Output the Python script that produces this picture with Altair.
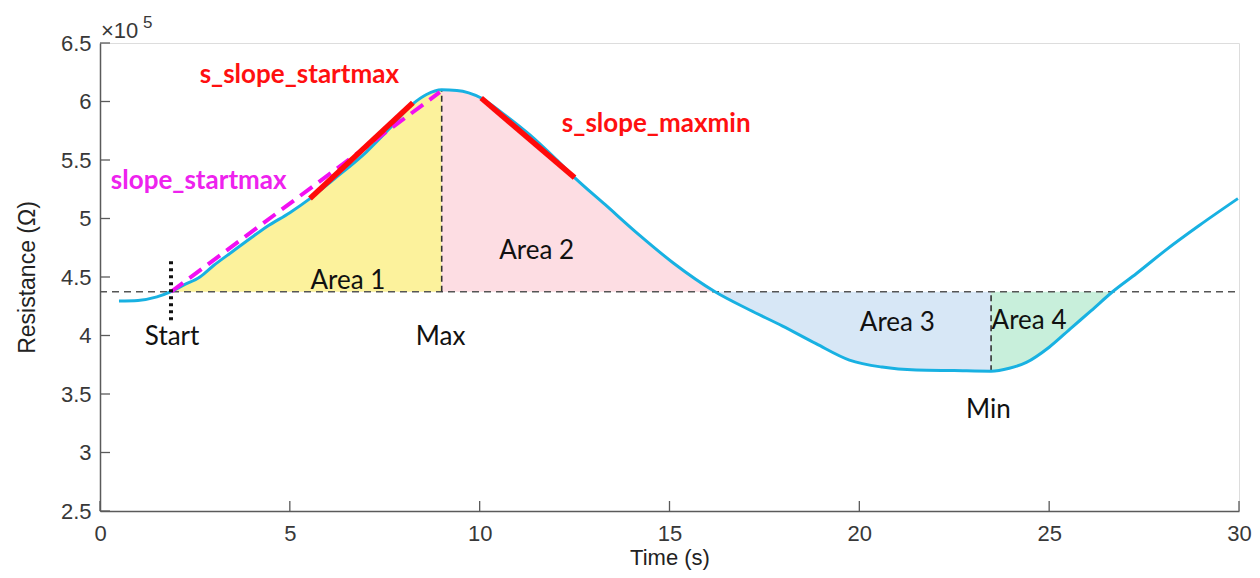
import altair as alt
import pandas as pd

# ---- data ----
time_s = [0.5, 1.0, 1.5, 1.87, 2.2, 2.63, 3.0, 3.5, 4.0, 4.39, 5.0, 5.53, 6.14, 7.02, 7.6,
          8.24, 8.6, 9.0, 9.4, 10.04, 10.6, 11.3, 12.0, 12.5, 13.3, 14.2, 15.1, 16.2, 17.1,
          17.98, 18.86, 19.74, 20.6, 21.5, 22.5, 23.47, 23.95, 24.4, 25.0, 25.6, 26.1, 26.67,
          27.3, 28.07, 28.95, 29.97]
resistance = [4.295, 4.30, 4.33, 4.374, 4.43, 4.50, 4.60, 4.72, 4.84, 4.93, 5.05, 5.17, 5.33,
              5.57, 5.76, 5.98, 6.06, 6.10, 6.095, 6.03, 5.90, 5.72, 5.51, 5.35, 5.12, 4.86,
              4.62, 4.374, 4.22, 4.08, 3.93, 3.79, 3.73, 3.705, 3.70, 3.695, 3.72, 3.77, 3.90,
              4.07, 4.21, 4.374, 4.53, 4.73, 4.94, 5.17]

baseline = 4.374
t_start, t_max, t_cross, t_min, t_end = 1.87, 9.0, 16.2, 23.47, 26.67
r_max, r_min = 6.10, 3.695

area_names = ["Area 1", "Area 2", "Area 3", "Area 4"]
area_bounds = [(t_start, t_max), (t_max, t_cross), (t_cross, t_min), (t_min, t_end)]
area_colors = ["#fcf29c", "#fddde3", "#d7e7f6", "#c8efdb"]

# slope lines (time, value)
slope_startmax = [(1.87, 4.374), (8.95, 6.08)]
s_slope_startmax = [(5.53, 5.17), (8.24, 5.99)]
s_slope_maxmin = [(10.04, 6.03), (12.5, 5.35)]
start_marker = [(1.87, 4.13), (1.87, 4.645)]

x_ticks = [0, 5, 10, 15, 20, 25, 30]
y_ticks = [2.5, 3, 3.5, 4, 4.5, 5, 5.5, 6, 6.5]

# annotation labels
area_label_x = [6.53, 11.5, 21.0, 24.47]
area_label_y = [4.47, 4.72, 4.11, 4.12]
point_labels = ["Start", "Max", "Min"]
point_label_x = [1.9, 8.97, 23.4]
point_label_y = [3.99, 3.99, 3.36]

W, H = 1139, 468
FONT_AX = "Liberation Sans"
FONT_AN = "Lato"

curve = pd.DataFrame({"t": time_s, "r": resistance})

rows = []
for name, (lo, hi) in zip(area_names, area_bounds):
    for t, r in zip(time_s, resistance):
        if lo - 1e-9 <= t <= hi + 1e-9:
            rows.append({"t": t, "r": r, "b": baseline, "area": name})
areas_df = pd.DataFrame(rows)

xs = alt.Scale(domain=[0, 30], nice=False, zero=False)
ys = alt.Scale(domain=[2.5, 6.5], nice=False, zero=False)

X = alt.X("t:Q", scale=xs,
          axis=alt.Axis(values=x_ticks, ticks=False, grid=False, title="Time (s)",
                        labelFont=FONT_AX, labelFontSize=22, labelColor="#383838",
                        labelPadding=12, titleFont=FONT_AX, titleFontSize=22,
                        titleFontWeight="normal", titleColor="#222222", titlePadding=3,
                        domainColor="#5a5a5a", domainWidth=1.5, labelFlush=False))
Y = alt.Y("r:Q", scale=ys,
          axis=alt.Axis(values=y_ticks, ticks=False, grid=False, title="Resistance (Ω)",
                        format="~g", labelFont=FONT_AX, labelFontSize=22,
                        labelColor="#383838", labelPadding=9, titleFont=FONT_AX,
                        titleFontSize=23, titleFontWeight="normal", titleColor="#222222",
                        titlePadding=21, domainColor="#5a5a5a", domainWidth=1.5,
                        labelFlush=False))

areas = alt.Chart(areas_df).mark_area(opacity=1, interpolate="monotone").encode(
    x=X, y=Y, y2="b:Q",
    color=alt.Color("area:N", scale=alt.Scale(domain=area_names, range=area_colors), legend=None),
)

base_df = pd.DataFrame({"t": [0], "t2": [30], "r": [baseline]})
base_line = alt.Chart(base_df).mark_rule(color="#555555", strokeWidth=1.4, strokeDash=[7, 5]).encode(
    x=alt.X("t:Q", scale=xs), x2="t2:Q", y=alt.Y("r:Q", scale=ys))

vert_df = pd.DataFrame({"t": [t_max, t_min], "r": [baseline, r_min], "r2": [r_max, baseline]})
vert_lines = alt.Chart(vert_df).mark_rule(color="#333333", strokeWidth=1.6, strokeDash=[6, 4]).encode(
    x=alt.X("t:Q", scale=xs), y=alt.Y("r:Q", scale=ys), y2="r2:Q")

start_df = pd.DataFrame({"t": [start_marker[0][0]], "r": [start_marker[0][1]], "r2": [start_marker[1][1]]})
start_line = alt.Chart(start_df).mark_rule(color="#111111", strokeWidth=4, strokeDash=[3, 4]).encode(
    x=alt.X("t:Q", scale=xs), y=alt.Y("r:Q", scale=ys), y2="r2:Q")

curve_line = alt.Chart(curve).mark_line(color="#18b1e2", strokeWidth=3, interpolate="monotone").encode(
    x=alt.X("t:Q", scale=xs), y=alt.Y("r:Q", scale=ys))

def seg(points, color, width, dash=None):
    df = pd.DataFrame({"t": [points[0][0]], "r": [points[0][1]],
                       "t2": [points[1][0]], "r2": [points[1][1]]})
    kw = dict(color=color, strokeWidth=width, strokeCap="butt")
    if dash:
        kw["strokeDash"] = dash
    return alt.Chart(df).mark_rule(**kw).encode(
        x=alt.X("t:Q", scale=xs), y=alt.Y("r:Q", scale=ys), x2="t2:Q", y2="r2:Q")

mag = seg(slope_startmax, "#f20ff2", 4, [15, 8])
red1 = seg(s_slope_startmax, "#ff0a0a", 5.5)
red2 = seg(s_slope_maxmin, "#ff0a0a", 5.5)

area_txt_df = pd.DataFrame({"t": area_label_x, "r": area_label_y, "s": area_names})
area_txt = alt.Chart(area_txt_df).mark_text(font=FONT_AN, fontSize=26, color="#111111").encode(
    x=alt.X("t:Q", scale=xs), y=alt.Y("r:Q", scale=ys), text="s:N")

pt_txt_df = pd.DataFrame({"t": point_label_x, "r": point_label_y, "s": point_labels})
pt_txt = alt.Chart(pt_txt_df).mark_text(font=FONT_AN, fontSize=26, color="#111111").encode(
    x=alt.X("t:Q", scale=xs), y=alt.Y("r:Q", scale=ys), text="s:N")

red_txt_df = pd.DataFrame({"t": [5.25, 14.65], "r": [6.23, 5.81],
                           "s": ["s_slope_startmax", "s_slope_maxmin"]})
red_txt = alt.Chart(red_txt_df).mark_text(font=FONT_AN, fontSize=26, fontWeight="bold",
                                          color="#ff1010").encode(
    x=alt.X("t:Q", scale=xs), y=alt.Y("r:Q", scale=ys), text="s:N")

mag_txt_df = pd.DataFrame({"t": [2.6], "r": [5.32], "s": ["slope_startmax"]})
mag_txt = alt.Chart(mag_txt_df).mark_text(font=FONT_AN, fontSize=26, fontWeight="bold",
                                          color="#ee22ee").encode(
    x=alt.X("t:Q", scale=xs), y=alt.Y("r:Q", scale=ys), text="s:N")

# inward ticks (MATLAB style)
xt = alt.Chart(pd.DataFrame({"t": x_ticks})).mark_rule(color="#5a5a5a", strokeWidth=1.3).encode(
    x=alt.X("t:Q", scale=xs), y=alt.value(H), y2=alt.value(H - 10))
yt = alt.Chart(pd.DataFrame({"r": y_ticks})).mark_rule(color="#5a5a5a", strokeWidth=1.3).encode(
    y=alt.Y("r:Q", scale=ys), x=alt.value(0), x2=alt.value(10))

exp_a = alt.Chart(pd.DataFrame({"s": ["×10"]})).mark_text(
    font=FONT_AX, fontSize=22, color="#383838", align="left", baseline="alphabetic").encode(
    x=alt.value(1), y=alt.value(-5), text="s:N")
exp_b = alt.Chart(pd.DataFrame({"s": ["5"]})).mark_text(
    font=FONT_AX, fontSize=17, color="#383838", align="left", baseline="alphabetic").encode(
    x=alt.value(43), y=alt.value(-15), text="s:N")

chart = alt.layer(
    areas, base_line, vert_lines, curve_line, mag, red1, red2, start_line,
    area_txt, pt_txt, red_txt, mag_txt, xt, yt, exp_a, exp_b
).properties(
    width=W, height=H,
    autosize=alt.AutoSizeParams(type="none"),
    padding={"left": 92, "top": 35, "right": 13, "bottom": 59},
).configure_view(stroke=None).configure(background="white")

chart.save("out.html", embed_options={"renderer": "svg", "actions": False})
